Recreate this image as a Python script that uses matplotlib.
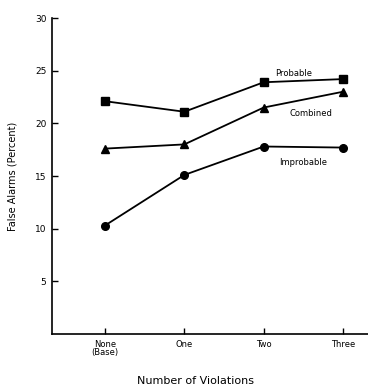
import matplotlib
matplotlib.use("Agg")
import matplotlib.pyplot as plt

categories = ["None\n(Base)", "One", "Two", "Three"]
probable = [22.1, 21.1, 23.9, 24.2]
combined = [17.6, 18.0, 21.5, 23.0]
improbable = [10.3, 15.1, 17.8, 17.7]
yticks = [5, 10, 15, 20, 25, 30]

fig = plt.figure(figsize=(3.68, 3.88), dpi=100)
ax = fig.add_axes([52/368, 1-334/388, 1-52/368, (334-18)/388])
x = list(range(len(categories)))
ax.plot(x, probable, color="black", lw=1.3, marker="s", ms=5.5)
ax.plot(x, combined, color="black", lw=1.3, marker="^", ms=5.5)
ax.plot(x, improbable, color="black", lw=1.3, marker="o", ms=5.5)

ax.set_ylim(0, 30)
ax.set_xlim(-0.668, 3.315)
ax.set_yticks(yticks)
ax.set_yticklabels([str(v) for v in yticks], fontsize=6.5)
ax.set_xticks(x)
ax.set_xticklabels(categories, fontsize=6, linespacing=0.9)
ax.tick_params(direction="in", length=4, width=1)
ax.tick_params(axis="y", pad=4)
ax.tick_params(axis="x", pad=4)
for s in ["top", "right"]:
    ax.spines[s].set_visible(False)
for s in ["left", "bottom"]:
    ax.spines[s].set_linewidth(1.2)

ax.text(2.38, 24.3, "Probable", fontsize=6, ha="center", va="bottom")
ax.text(2.6, 20.9, "Combined", fontsize=6, ha="center", va="center")
ax.text(2.5, 16.3, "Improbable", fontsize=6, ha="center", va="center")

ax.set_ylabel("False Alarms (Percent)", fontsize=7)
ax.yaxis.set_label_coords(-0.11, 0.5)
fig.text(0.53, 1-381/388, "Number of Violations", fontsize=8, ha="center", va="center")
fig.savefig("out.png", dpi=100)
